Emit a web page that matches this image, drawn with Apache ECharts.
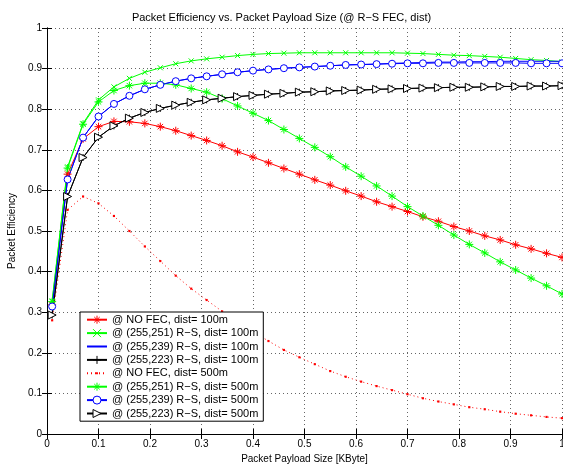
<!DOCTYPE html>
<html>
<head>
<meta charset="utf-8">
<script src="https://cdn.jsdelivr.net/npm/echarts@6/dist/echarts.min.js"></script>
<style>html,body{margin:0;padding:0;background:#fff}#c{width:563px;height:464px}</style>
</head>
<body>
<div id="c"></div>
<script>
// Payload sizes (KByte)
var xs = [0.01,0.04,0.07,0.10,0.13,0.16,0.19,0.22,0.25,0.28,0.31,0.34,0.37,0.40,0.43,0.46,0.49,0.52,0.55,0.58,0.61,0.64,0.67,0.70,0.73,0.76,0.79,0.82,0.85,0.88,0.91,0.94,0.97,1.00];

var noFec100 = [0.318,0.640,0.727,0.757,0.770,0.769,0.765,0.757,0.747,0.735,0.723,0.710,0.695,0.682,0.668,0.654,0.640,0.626,0.613,0.599,0.586,0.572,0.560,0.548,0.535,0.524,0.511,0.500,0.488,0.478,0.466,0.456,0.445,0.435];
var rs251_100 = [0.328,0.658,0.765,0.823,0.855,0.876,0.891,0.902,0.912,0.919,0.924,0.928,0.932,0.935,0.937,0.938,0.939,0.939,0.939,0.939,0.939,0.939,0.939,0.938,0.937,0.935,0.933,0.932,0.930,0.928,0.925,0.922,0.920,0.917];
var rs239_100 = [0.314,0.627,0.730,0.782,0.813,0.833,0.849,0.860,0.869,0.876,0.881,0.886,0.891,0.895,0.898,0.901,0.903,0.905,0.907,0.909,0.910,0.911,0.913,0.914,0.915,0.916,0.916,0.917,0.917,0.918,0.918,0.918,0.918,0.918];
var rs223_100 = [0.293,0.585,0.681,0.731,0.759,0.778,0.792,0.802,0.810,0.817,0.823,0.827,0.831,0.834,0.837,0.839,0.842,0.843,0.845,0.846,0.847,0.849,0.850,0.851,0.852,0.853,0.854,0.854,0.855,0.856,0.856,0.857,0.857,0.858];
var noFec500 = [0.280,0.552,0.585,0.568,0.537,0.500,0.462,0.426,0.390,0.358,0.330,0.302,0.277,0.252,0.229,0.207,0.189,0.172,0.155,0.141,0.129,0.118,0.108,0.098,0.088,0.080,0.073,0.066,0.061,0.055,0.050,0.046,0.042,0.039];
var rs251_500 = [0.326,0.655,0.763,0.818,0.846,0.858,0.864,0.864,0.860,0.851,0.842,0.826,0.808,0.790,0.772,0.750,0.728,0.706,0.683,0.658,0.635,0.611,0.586,0.560,0.537,0.514,0.490,0.467,0.446,0.424,0.404,0.384,0.365,0.345];
var rs239_500 = [0.314,0.627,0.730,0.782,0.813,0.833,0.849,0.860,0.869,0.876,0.881,0.886,0.891,0.895,0.898,0.901,0.903,0.905,0.907,0.909,0.910,0.911,0.912,0.913,0.913,0.914,0.914,0.914,0.914,0.914,0.914,0.913,0.913,0.913];
var rs223_500 = [0.293,0.585,0.681,0.731,0.759,0.778,0.792,0.802,0.810,0.817,0.823,0.827,0.831,0.834,0.837,0.839,0.842,0.843,0.845,0.846,0.847,0.849,0.850,0.851,0.852,0.853,0.854,0.854,0.855,0.856,0.856,0.857,0.857,0.858];

var seriesNames = [
  '@ NO FEC, dist= 100m',
  '@ (255,251) R\u2212S, dist= 100m',
  '@ (255,239) R\u2212S, dist= 100m',
  '@ (255,223) R\u2212S, dist= 100m',
  '@ NO FEC, dist= 500m',
  '@ (255,251) R\u2212S, dist= 500m',
  '@ (255,239) R\u2212S, dist= 500m',
  '@ (255,223) R\u2212S, dist= 500m'
];
var seriesValues = [noFec100, rs251_100, rs239_100, rs223_100, noFec500, rs251_500, rs239_500, rs223_500];

var ASTER = 'path://M5,0L5,10M0,5L10,5M1.6,1.6L8.4,8.4M8.4,1.6L1.6,8.4';
var XMARK = 'path://M0,0L10,10M10,0L0,10';
var PLUS = 'path://M5,0L5,10M0,5L10,5';
var TRI = 'path://M0,0L10,5L0,10Z';
var DOT = 'path://M0,0M3.8,3.8L6.2,3.8L6.2,6.2L3.8,6.2ZM10,10';

var styles = [
  {color:'#ff0000', symbol:ASTER, size:8, type:'solid'},
  {color:'#00ff00', symbol:XMARK, size:5, type:'solid'},
  {color:'#0000ff', symbol:'none', size:0, type:'solid'},
  {color:'#000000', symbol:PLUS, size:7, type:'solid'},
  {color:'#ff0000', symbol:DOT, size:9, type:'dotted', filled:true},
  {color:'#00ff00', symbol:ASTER, size:8, type:'solid'},
  {color:'#0000ff', symbol:'circle', size:7, type:'solid', hollow:true},
  {color:'#000000', symbol:TRI, size:8, type:'solid', hollow:true}
];

function pairs(vals){ return xs.map(function(x,i){ return [x, vals[i]]; }); }

var series = seriesNames.map(function(name, i){
  var s = styles[i];
  var item;
  if (s.filled) item = {color: s.color, borderWidth: 0};
  else if (s.hollow) item = {color: '#ffffff', borderColor: s.color, borderWidth: 1};
  else item = {color: s.color, borderColor: s.color, borderWidth: 1};
  return {
    name: name,
    type: 'line',
    data: pairs(seriesValues[i]),
    color: s.color,
    symbol: s.symbol,
    symbolSize: s.size,
    showSymbol: s.symbol !== 'none',
    showAllSymbol: true,
    lineStyle: {color: s.color, width: 1, type: s.type === 'dotted' ? [1,3] : 'solid'},
    itemStyle: item,
    emphasis: {disabled: true},
    animation: false
  };
});

var legendData = seriesNames.map(function(name, i){
  var d = {name: name};
  if (styles[i].symbol === 'none') d.itemStyle = {opacity: 0};
  if (styles[i].filled) d.itemStyle = {borderWidth: 0};
  return d;
});

var FONT = 'Liberation Sans';
var chart = echarts.init(document.getElementById('c'), null, {renderer: 'canvas'});
chart.setOption({
  backgroundColor: '#fff',
  animation: false,
  textStyle: {fontFamily: FONT},
  title: {
    text: 'Packet Efficiency vs. Packet Payload Size (@ R\u2212S FEC, dist)',
    left: 'center', top: 7,
    textStyle: {fontSize: 11, fontWeight: 'normal', color: '#000', fontFamily: FONT}
  },
  grid: {left: 47, right: 1, top: 28, bottom: 30, containLabel: false, outerBoundsMode: 'none'},
  legend: {
    orient: 'vertical',
    left: 80, top: 312,
    backgroundColor: '#fff',
    borderColor: '#000', borderWidth: 1,
    padding: [1, 5, 1, 6],
    itemWidth: 20, itemHeight: 10, itemGap: 0,
    itemStyle: {borderWidth: 1},
    textStyle: {fontSize: 11, color: '#000', fontFamily: FONT, lineHeight: 13.4},
    data: legendData
  },
  xAxis: [{
    type: 'value', min: 0, max: 1, interval: 0.1,
    name: 'Packet Payload Size [KByte]', nameLocation: 'middle', nameGap: 18,
    nameTextStyle: {fontSize: 10, color: '#000', fontFamily: FONT},
    axisLine: {show: true, lineStyle: {color: '#000', width: 1}},
    axisTick: {show: true, inside: true, length: 5, lineStyle: {color: '#000'}},
    axisLabel: {fontSize: 10, color: '#000', margin: 5, fontFamily: FONT},
    splitLine: {show: true, lineStyle: {color: '#666', width: 1, type: [1, 3]}}
  }, {
    type: 'value', min: 0, max: 1, interval: 0.1, position: 'top',
    axisLine: {show: true, lineStyle: {color: '#000', width: 1}},
    axisTick: {show: true, inside: true, length: 5, lineStyle: {color: '#000'}},
    axisLabel: {show: false}, splitLine: {show: false}
  }],
  yAxis: [{
    type: 'value', min: 0, max: 1, interval: 0.1,
    name: 'Packet Efficiency', nameLocation: 'middle', nameGap: 30,
    nameTextStyle: {fontSize: 10, color: '#000', fontFamily: FONT},
    axisLine: {show: true, lineStyle: {color: '#000', width: 1}},
    axisTick: {show: true, inside: true, length: 5, lineStyle: {color: '#000'}},
    axisLabel: {fontSize: 10, color: '#000', margin: 5, fontFamily: FONT},
    splitLine: {show: true, lineStyle: {color: '#666', width: 1, type: [1, 3]}}
  }, {
    type: 'value', min: 0, max: 1, interval: 0.1, position: 'right',
    axisLine: {show: true, lineStyle: {color: '#000', width: 1}},
    axisTick: {show: true, inside: true, length: 5, lineStyle: {color: '#000'}},
    axisLabel: {show: false}, splitLine: {show: false}
  }],
  series: series
});
</script>
</body>
</html>
